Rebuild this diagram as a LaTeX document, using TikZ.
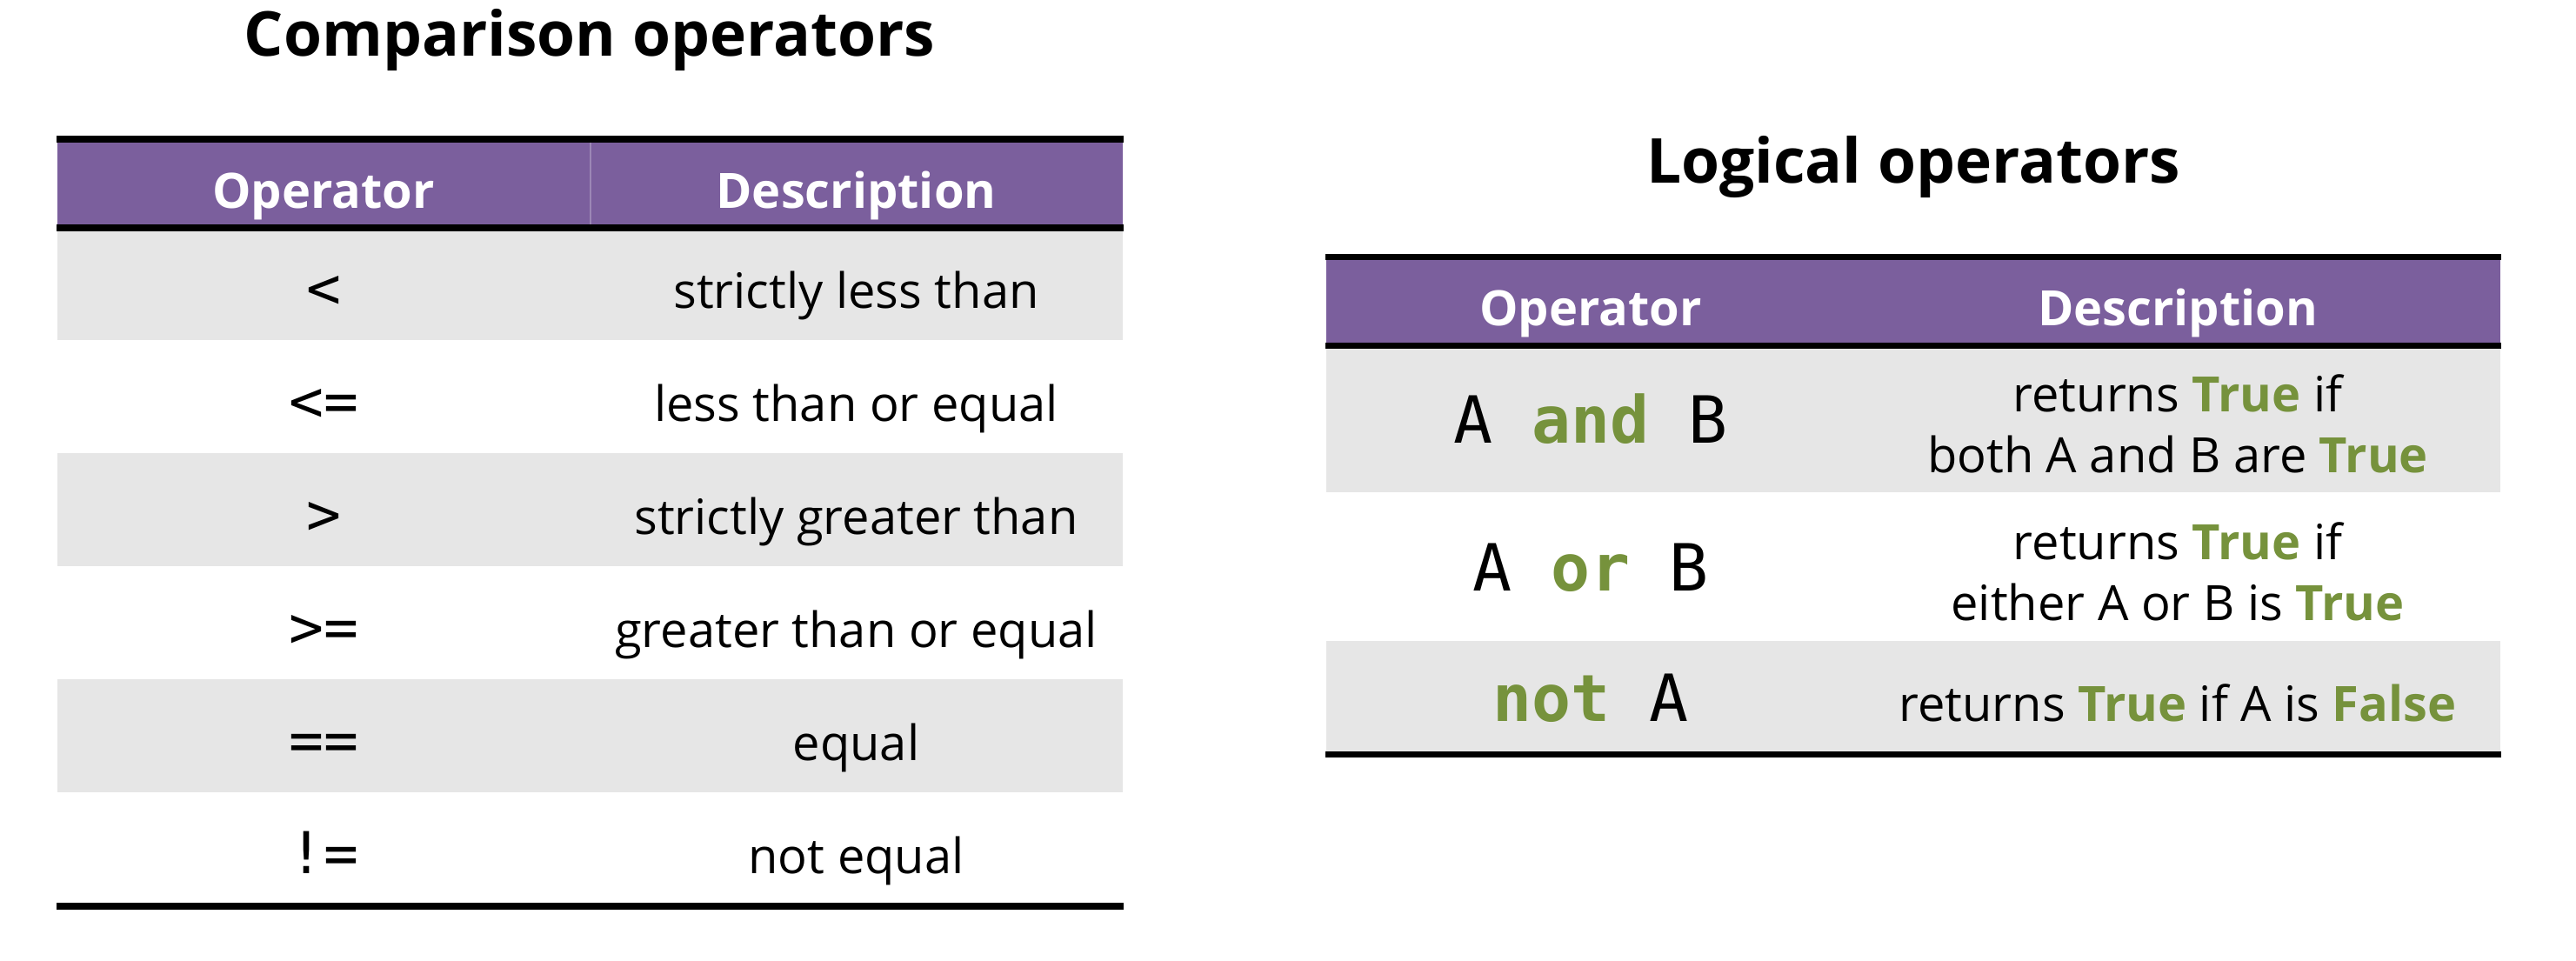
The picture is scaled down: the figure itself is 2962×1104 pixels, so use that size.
\documentclass[tikz,border=0pt]{standalone}
\usepackage{fontspec}
\setmainfont{Open Sans}
\newfontfamily\codefont{DejaVu Sans Mono}
\definecolor{hdrpurple}{HTML}{7B5F9D}
\definecolor{rowgrey}{HTML}{E6E6E6}
\definecolor{kwgreen}{HTML}{76923C}
\newcommand{\kw}[1]{\textbf{\textcolor{kwgreen}{#1}}}
\begin{document}
\begin{tikzpicture}[x=0.25pt, y=-0.25pt,
		titletext/.style={anchor=base, font=\fontsize{17.8}{22}\selectfont\bfseries},
		cell/.style={inner sep=0pt, text height=14pt, text depth=0pt},
		hdrcell/.style={cell, fill=hdrpurple, text=white, minimum height=25pt, font=\fontsize{14}{17}\selectfont\bfseries},
		greycell/.style={cell, fill=rowgrey},
		whitecell/.style={cell},
		cmpop/.style={font=\codefont\fontsize{16.6}{20}\selectfont},
		logop/.style={font=\codefont\fontsize{18.7}{22}\selectfont},
		desc/.style={font=\fontsize{14}{17.5}\selectfont},
		desctwo/.style={desc, text height=31pt, text depth=0pt},
		tablerule/.style={line width=2pt}
		]
		\useasboundingbox (0,0) rectangle (2962,1104);

		\node[titletext](CmpTitle) at (678,64){Comparison operators};
		\node[hdrcell, minimum width=153pt](CmpOpH) at (372,211){Operator};
		\node[hdrcell, minimum width=153.25pt](CmpDescH) at (984.5,211){Description};
		\draw[hdrpurple!75!white, line width=0.4pt] (CmpOpH.north east) -- (CmpOpH.south east);
		\node[greycell, cmpop, minimum width=153pt, minimum height=32.5pt](CmpOp1) at (372,326){<};
		\node[greycell, desc, minimum width=153.25pt, minimum height=32.5pt](CmpDesc1) at (984.5,326){strictly less than};
		\node[whitecell, cmpop, minimum width=153pt, minimum height=32.5pt](CmpOp2) at (372,456){<=};
		\node[whitecell, desc, minimum width=153.25pt, minimum height=32.5pt](CmpDesc2) at (984.5,456){less than or equal};
		\node[greycell, cmpop, minimum width=153pt, minimum height=32.5pt](CmpOp3) at (372,586){>};
		\node[greycell, desc, minimum width=153.25pt, minimum height=32.5pt](CmpDesc3) at (984.5,586){strictly greater than};
		\node[whitecell, cmpop, minimum width=153pt, minimum height=32.5pt](CmpOp4) at (372,716){>=};
		\node[whitecell, desc, minimum width=153.25pt, minimum height=32.5pt](CmpDesc4) at (984.5,716){greater than or equal};
		\node[greycell, cmpop, minimum width=153pt, minimum height=32.5pt](CmpOp5) at (372,846){==};
		\node[greycell, desc, minimum width=153.25pt, minimum height=32.5pt](CmpDesc5) at (984.5,846){equal};
		\node[whitecell, cmpop, minimum width=153pt, minimum height=32.5pt](CmpOp6) at (372,976){!=};
		\node[whitecell, desc, minimum width=153.25pt, minimum height=32.5pt](CmpDesc6) at (984.5,976){not equal};
		\draw[tablerule] (CmpOpH.north west) -- (CmpDescH.north east);
		\draw[tablerule] (CmpOpH.south west) -- (CmpDescH.south east);
		\draw[tablerule] (CmpOp6.south west) -- (CmpDesc6.south east);

		\node[titletext](LogTitle) at (2200,210){Logical operators};
		\node[hdrcell, minimum width=152pt](LogOpH) at (1829,346.5){Operator};
		\node[hdrcell, minimum width=185.5pt](LogDescH) at (2504,346.5){Description};
		\node[greycell, logop, minimum width=152pt, minimum height=42.4pt](LogOp1) at (1829,481.25){A \kw{and} B};
		\node[greycell, desctwo, minimum width=185.5pt, minimum height=42.4pt](LogDesc1) at (2504,481.25){\begin{tabular}[b]{@{}c@{}}returns \kw{True} if\\both A and B are \kw{True}\end{tabular}};
		\node[whitecell, logop, minimum width=152pt, minimum height=42.75pt](LogOp2) at (1829,651.5){A \kw{or} B};
		\node[whitecell, desctwo, minimum width=185.5pt, minimum height=42.75pt](LogDesc2) at (2504,651.5){\begin{tabular}[b]{@{}c@{}}returns \kw{True} if\\either A or B is \kw{True}\end{tabular}};
		\node[greycell, logop, minimum width=152pt, minimum height=32.4pt](LogOp3) at (1829,801.75){\kw{not} A};
		\node[greycell, desc, minimum width=185.5pt, minimum height=32.4pt](LogDesc3) at (2504,801.75){returns \kw{True} if A is \kw{False}};
		\draw[tablerule, line width=1.75pt] (LogOpH.north west) -- (LogDescH.north east);
		\draw[tablerule, line width=1.75pt] (LogOpH.south west) -- (LogDescH.south east);
		\draw[tablerule, line width=1.75pt] (LogOp3.south west) -- (LogDesc3.south east);
	\end{tikzpicture}
\end{document}
